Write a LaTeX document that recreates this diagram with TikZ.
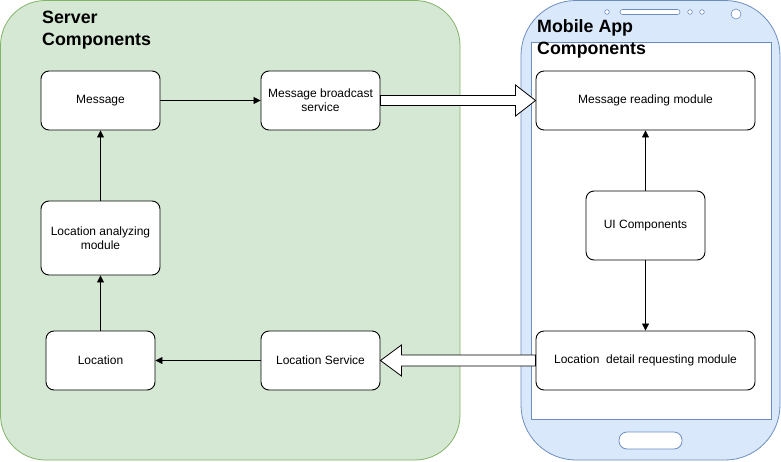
\documentclass[tikz,border=0pt]{standalone}
\usepackage{fontspec}
\setmainfont{Liberation Sans}
\usetikzlibrary{calc,arrows.meta}
\definecolor{srvfill}{HTML}{D5E8D4}
\definecolor{srvline}{HTML}{82B366}
\definecolor{phfill}{HTML}{DAE8FC}
\definecolor{phline}{HTML}{6C8EBF}
\tikzset{
  box/.style={draw=black, fill=white, rounded corners=8pt, align=center, inner sep=0pt,
    line width=0.9pt, font=\fontsize{12}{14}\selectfont},
  conn/.style={-{Triangle[length=7pt,width=7pt]}, line width=0.8pt},
  hollow/.style={draw=black, fill=white, line width=0.8pt, line join=miter},
  title/.style={anchor=north west, align=left, inner sep=0pt, font=\fontsize{17.8}{22}\selectfont\bfseries},
}
\begin{document}
\begin{tikzpicture}[x=1pt,y=-1pt]
\useasboundingbox (0,0) rectangle (781,461);
% server container
\draw[fill=srvfill, draw=srvline, line width=0.8pt, rounded corners=45pt] (0.5,0.5) rectangle (460,460);
\node[title] (stitle) at (42,11) {Server\\Components};
% phone
\draw[fill=phfill, draw=phline, line width=0.8pt, rounded corners=55pt] (521,0.5) rectangle (780,460);
\draw[fill=white, draw=phline, line width=0.8pt] (531,42) rectangle (771,419);
\draw[fill=white, draw=phline, line width=0.8pt, rounded corners=8pt] (619,432) rectangle (682,449);
\draw[fill=white, draw=phline, line width=0.6pt] (607,12) circle (2.3);
\draw[fill=white, draw=phline, line width=0.6pt, rounded corners=2.5pt] (620,9.5) rectangle (680,14.5);
\draw[fill=white, draw=phline, line width=0.6pt] (690,12) circle (2.3);
\draw[fill=white, draw=phline, line width=0.6pt] (702,12) circle (2.3);
\draw[fill=white, draw=phline, line width=0.6pt] (736,14) circle (5);
\node[title] (mtitle) at (537,19) {Mobile App\\Components};
% boxes
\node[box, minimum width=119pt, minimum height=59pt] (msg) at (100.5,100.5) {Message};
\node[box, minimum width=119pt, minimum height=59pt] (mbs) at (320.5,100.5) {Message broadcast\\service};
\node[box, minimum width=219pt, minimum height=59pt] (mrm) at (645.5,100.5) {Message reading module};
\node[box, minimum width=119pt, minimum height=74pt] (lam) at (100.5,238) {Location analyzing\\module};
\node[box, minimum width=119pt, minimum height=69pt] (ui) at (645.5,225.5) {UI Components};
\node[box, minimum width=109pt, minimum height=59pt] (loc) at (100.5,360.5) {Location};
\node[box, minimum width=119pt, minimum height=59pt] (ls) at (320.5,360.5) {Location Service};
\node[box, minimum width=219pt, minimum height=59pt] (ldr) at (645.5,360.5) {Location\ \ detail requesting module};
% connectors
\draw[conn] (msg) -- (mbs);
\draw[conn] (lam) -- (msg);
\draw[conn] (loc) -- (lam);
\draw[conn] (ls) -- (loc);
\draw[conn] (ui) -- (mrm);
\draw[conn] (ui) -- (ldr);
% hollow arrows
\draw[hollow] ($(mbs.east)+(0,-5)$) -- ($(mrm.west)+(-20,-5)$) -- ($(mrm.west)+(-20,-15.5)$)
  -- (mrm.west) -- ($(mrm.west)+(-20,15.5)$) -- ($(mrm.west)+(-20,5)$) -- ($(mbs.east)+(0,5)$) -- cycle;
\draw[hollow] ($(ldr.west)+(0,-5.5)$) -- ($(ls.east)+(21,-5.5)$) -- ($(ls.east)+(21,-15.5)$)
  -- (ls.east) -- ($(ls.east)+(21,15.5)$) -- ($(ls.east)+(21,5.5)$) -- ($(ldr.west)+(0,5.5)$) -- cycle;
\end{tikzpicture}
\end{document}
